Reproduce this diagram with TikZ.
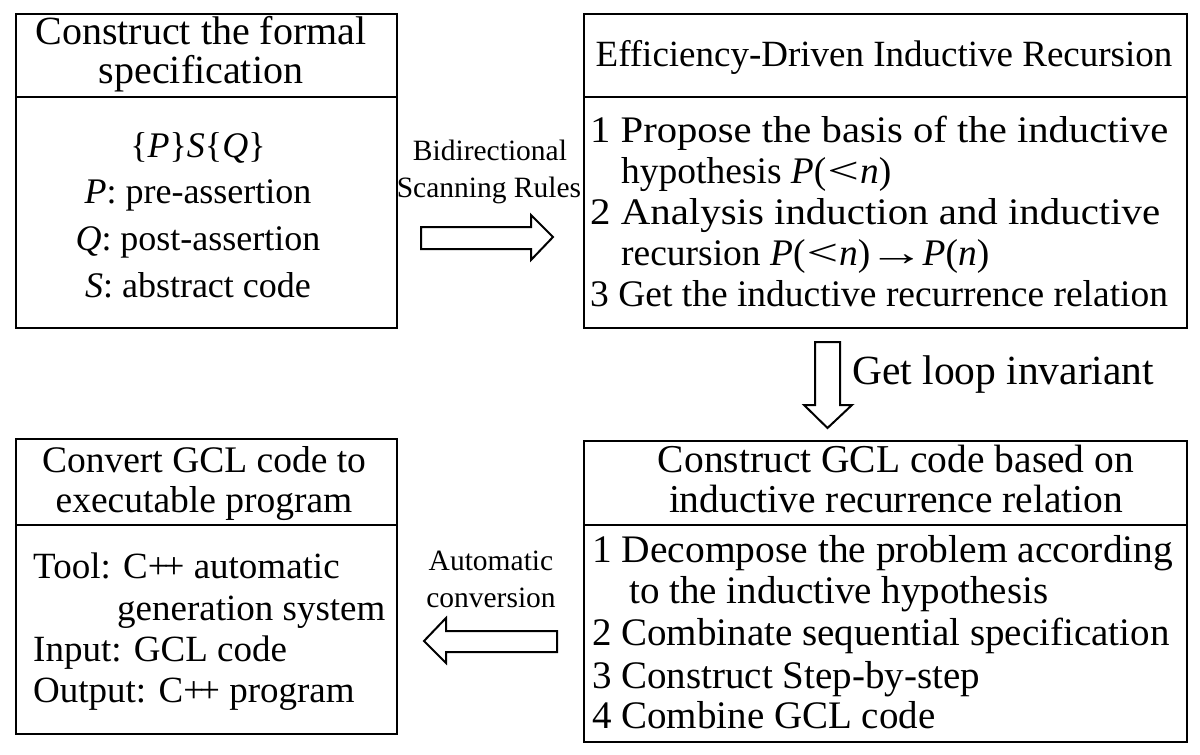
\documentclass[tikz,border=0pt]{standalone}
\usepackage{fontspec}
\usepackage{graphicx}
\setmainfont{Liberation Serif}
\newcommand{\bigless}{\kern1pt\scalebox{1.5}[1]{<}\kern1pt}
\newcommand{\longto}{\kern-2pt\scalebox{1.5}[1]{→}\kern-2pt}
\begin{document}
\begin{tikzpicture}[x=1pt,y=-1pt,
  frame/.style={draw=black,line width=2pt,anchor=north west,inner sep=0pt},
  barrow/.style={draw=black,line width=2pt,line join=miter,fill=white},
  ln/.style={inner sep=0pt,anchor=base west},
  cl/.style={inner sep=0pt,anchor=base},
  ftA/.style={font=\fontsize{40}{40}\selectfont},
  fbA/.style={font=\fontsize{36}{36}\selectfont},
  ftB/.style={font=\fontsize{37}{37}\selectfont},
  fbB/.style={font=\fontsize{37.5}{37.5}\selectfont},
  ftC/.style={font=\fontsize{39.5}{39.5}\selectfont},
  fbC/.style={font=\fontsize{39}{39}\selectfont},
  ftD/.style={font=\fontsize{37.5}{37.5}\selectfont},
  fbD/.style={font=\fontsize{37}{37}\selectfont},
  fs/.style={font=\fontsize{29.5}{29.5}\selectfont},
]
\useasboundingbox (0,0) rectangle (1200,755);
% boxes
\node[frame,minimum width=381pt,minimum height=83pt] (At) at (15,13) {};
\node[frame,minimum width=381pt,minimum height=231pt] (Ab) at (15,96) {};
\node[frame,minimum width=603pt,minimum height=83pt] (Bt) at (583,13) {};
\node[frame,minimum width=603pt,minimum height=231pt] (Bb) at (583,96) {};
\node[frame,minimum width=603pt,minimum height=84pt] (Ct) at (583,440) {};
\node[frame,minimum width=603pt,minimum height=217pt] (Cb) at (583,524) {};
\node[frame,minimum width=381pt,minimum height=86pt] (Dt) at (15,438) {};
\node[frame,minimum width=381pt,minimum height=209pt] (Db) at (15,524) {};
% box A
\node[cl,ftA] (a1) at (201,44) {Construct the formal};
\node[cl,ftA] (a2) at (201,83) {specification};
\node[cl,fbA] (a3) at (198,157) {\{\textit{P}\}\textit{S}\{\textit{Q}\}};
\node[cl,fbA] (a4) at (198,203) {\textit{P}: pre-assertion};
\node[cl,fbA] (a5) at (198,250) {\textit{Q}: post-assertion};
\node[cl,fbA] (a6) at (198,297) {\textit{S}: abstract code};
% box B
\node[cl,ftB] (b0) at (884,66) {Efficiency-Driven Inductive Recursion};
\node[ln,fbB] (b1) at (590,142) {\resizebox{578pt}{\height}{1 Propose the basis of the inductive}};
\node[ln,fbB] (b2) at (621,183) {hypothesis \textit{P}(\bigless\textit{n})};
\node[ln,fbB] (b3) at (590,224) {\resizebox{570pt}{\height}{2 Analysis induction and inductive}};
\node[ln,fbB] (b4) at (621,265) {recursion \textit{P}(\bigless\textit{n})\longto\textit{P}(\textit{n})};
\node[ln,fbB] (b5) at (590,306) {3 Get the inductive recurrence relation};
% box C
\node[cl,ftC] (c1) at (896,472) {Construct GCL code based on};
\node[cl,ftC] (c2) at (896,512) {inductive recurrence relation};
\node[ln,fbC] (c3) at (592,562) {\resizebox{581pt}{\height}{1 Decompose the problem according}};
\node[ln,fbC] (c4) at (629,603) {to the inductive hypothesis};
\node[ln,fbC] (c5) at (592,645) {2 Combinate sequential specification};
\node[ln,fbC] (c6) at (592,688) {3 Construct Step-by-step};
\node[ln,fbC] (c7) at (592,728) {4 Combine GCL code};
% box D
\node[cl,ftD] (d1) at (204,472) {Convert GCL code to};
\node[cl,ftD] (d2) at (204,512) {executable program};
\node[ln,fbD] (d3) at (33,578) {Tool: C+\kern-5pt+ automatic};
\node[ln,fbD] (d4) at (117,620) {generation system};
\node[ln,fbD] (d5) at (33,661) {Input: GCL code};
\node[ln,fbD] (d6) at (33,702) {Output: C+\kern-5pt+ program};
% arrows
\draw[barrow] (421,227) -- (531,227) -- (531,215) -- (553,237) -- (531,260) -- (531,249) -- (421,249) -- cycle;
\draw[barrow] (815,342) -- (840,342) -- (840,405) -- (852,405) -- (827.5,428) -- (804,405) -- (815,405) -- cycle;
\draw[barrow] (557,631) -- (446,631) -- (446,618) -- (424,641) -- (446,663) -- (446,652) -- (557,652) -- cycle;
% arrow labels
\node[cl,fs] (l1) at (490,160) {Bidirectional};
\node[cl,fs] (l2) at (489,197) {Scanning Rules};
\node[cl,fs] (l3) at (491,570) {Automatic};
\node[cl,fs] (l4) at (491,607) {conversion};
\node[ln,font=\fontsize{41.5}{41.5}\selectfont] (l5) at (852,384) {Get loop invariant};
\end{tikzpicture}
\end{document}
